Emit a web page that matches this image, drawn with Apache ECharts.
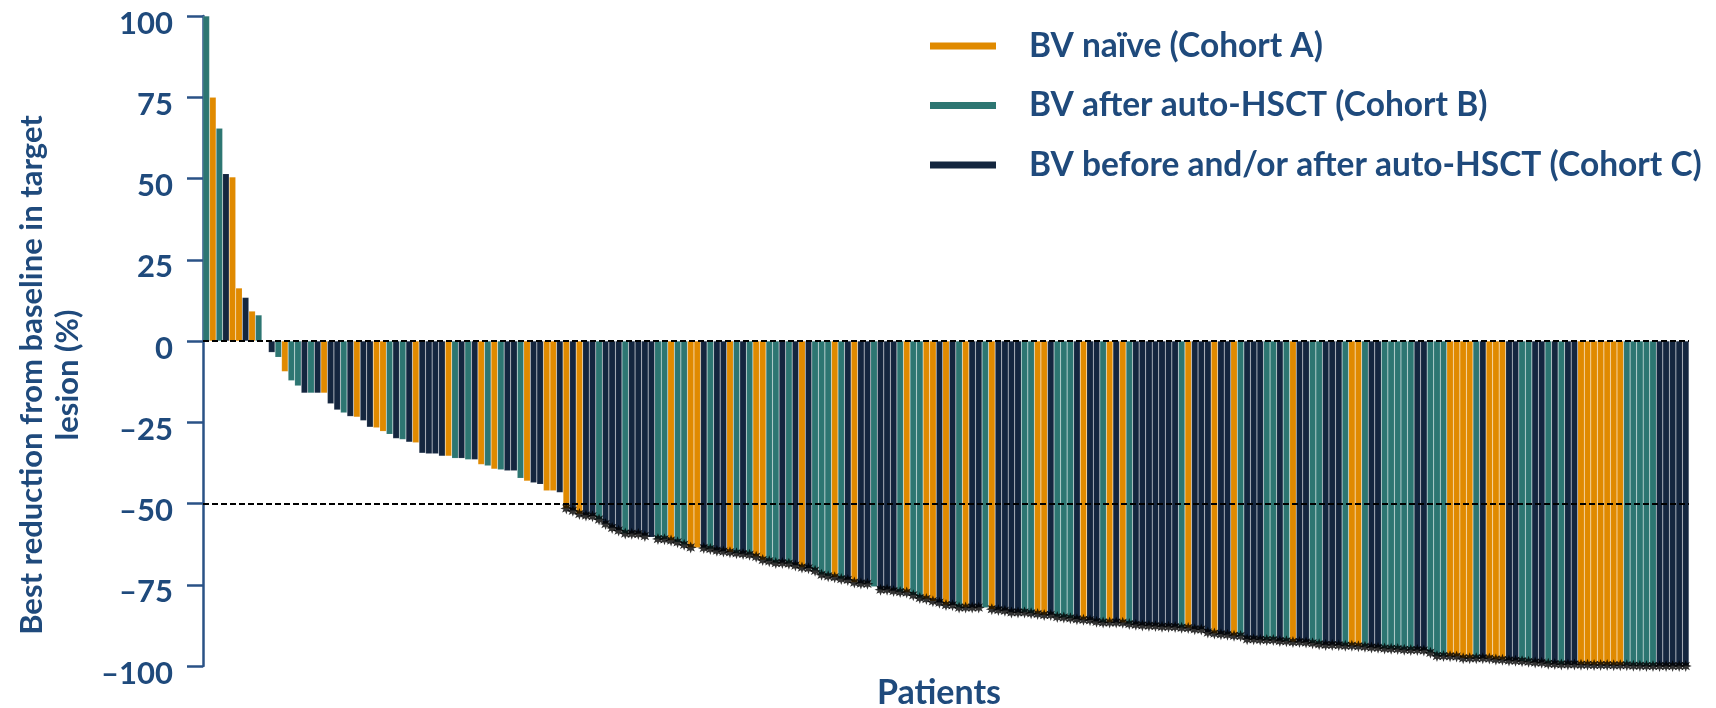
<!DOCTYPE html>
<html>
<head>
<meta charset="utf-8">
<script src="https://cdn.jsdelivr.net/npm/echarts@6/dist/echarts.min.js"></script>
<style>
html,body{margin:0;padding:0;background:#fff;}
#chart{width:1716px;height:708px;}
</style>
</head>
<body>
<div id="chart"></div>
<script>
// Best reduction from baseline (%) per patient, sorted
const values = [
100,75,65.5,51.5,50.5,16.3,13.4,9.2,8,0,
-3.5,-5,-9.4,-12.2,-13.8,-16,-16,-16,-16,-19.3,
-21.2,-22.1,-23.2,-23.4,-24.5,-26.5,-26.7,-27.8,-28.7,-30,
-30.3,-31.1,-31.3,-34.5,-34.7,-34.7,-35.4,-35.4,-36.1,-36.1,
-36.5,-36.5,-38,-38.4,-39.4,-39.6,-39.9,-39.9,-42.2,-43.1,
-43.6,-44.1,-46.1,-46.1,-46.6,-51.5,-52.2,-53.2,-53.7,-53.9,
-54.9,-56.3,-57.5,-58.3,-59.2,-59.3,-59.4,-60,-60.4,-60.9,
-61,-61.4,-61.9,-62.7,-63.5,-63.6,-63.7,-64,-64.5,-64.8,
-65,-65.3,-65.5,-65.8,-66.4,-67.4,-67.8,-68.3,-68.3,-68.5,
-69.1,-69.7,-69.9,-70.7,-71.9,-72.4,-72.7,-73.2,-73.5,-74.3,
-74.6,-74.7,-75.6,-76.5,-76.5,-76.9,-77.2,-77.4,-78.2,-79.1,
-79.4,-80.1,-80.5,-81.2,-81.3,-82,-82,-82,-82,-82.1,
-82.5,-82.8,-83,-83.5,-83.5,-83.5,-83.8,-84,-84.3,-84.3,
-84.9,-85.1,-85.3,-85.6,-85.8,-85.9,-86.4,-86.6,-86.6,-86.6,
-86.7,-87.1,-87.3,-87.5,-87.6,-87.7,-87.9,-87.9,-88,-88.2,
-88.3,-88.7,-88.8,-89.7,-90,-90.2,-90.4,-90.7,-90.8,-91.8,
-91.8,-91.9,-92,-92,-92.3,-92.4,-92.6,-92.6,-92.8,-93,
-93.3,-93.5,-93.5,-93.6,-93.8,-93.8,-93.9,-94.1,-94.3,-94.4,
-94.6,-94.7,-94.8,-95,-95.1,-95.1,-95.2,-95.9,-96.9,-96.9,
-97,-97.1,-97.6,-97.6,-97.6,-97.6,-97.7,-98,-98.1,-98.3,
-98.4,-98.5,-98.7,-98.9,-99,-99.3,-99.4,-99.5,-99.5,-99.5,
-99.6,-99.6,-99.7,-99.7,-99.7,-99.8,-99.8,-99.8,-99.9,-99.9,
-100,-100,-100,-100,-100,-100,-100
];
// Cohort of each patient (A, B, C)
const cohorts = (
'BABCAACABB' + 'CBABBCBCAC' + 'CBCACCAABC' + 'BCACCCCABC' + 'BCABABCCBA' +
'CCAACACACC' + 'BCCCBCCCCB' + 'BABBAACBCC' + 'ABCBAABBCB' + 'CACBBBABCA' +
'CCBCCCBABB' + 'AACACBACCB' + 'ACCCCBBAAC' + 'BBBCACCBAC' + 'ABCCCCCCCB' +
'ACCCACCABC' + 'CCBBCBACCB' + 'BCCCBAABCC' + 'BBBBBCCBBB' + 'AAAABCAAAC' +
'CBBCCBCBCC' + 'AAAAAAABBB' + 'BBCCCCC'
).split('');
// Patients without the asterisk marker
const noStar = [68, 75, 102, 119];
const seriesNames = ['BV naïve (Cohort A)', 'BV after auto-HSCT (Cohort B)', 'BV before and/or after auto-HSCT (Cohort C)'];
const cohortKeys = ['A', 'B', 'C'];
const yTicks = [-100, -75, -50, -25, 0, 25, 50, 75, 100];

const colors = ['#E08A00', '#2D7672', '#14263F'];
const textColor = '#1F4A7C';
const categories = values.map((v, i) => 'P' + (i + 1));

// 8-point star symbol
function starPath() {
  let d = '';
  for (let k = 0; k < 16; k++) {
    const a = k * Math.PI / 8 - Math.PI / 2;
    const r = k % 2 === 0 ? 10 : 5;
    const x = (10 + r * Math.cos(a)).toFixed(2);
    const y = (10 + r * Math.sin(a)).toFixed(2);
    d += (k === 0 ? 'M' : 'L') + x + ' ' + y + ' ';
  }
  return 'path://' + d + 'Z';
}

const barSeries = cohortKeys.map((key, k) => ({
  name: seriesNames[k],
  type: 'bar',
  stack: 'all',
  barCategoryGap: 0,
  barGap: 0,
  itemStyle: { color: colors[k], borderColor: 'rgba(255,255,255,0.22)', borderWidth: 0.5 },
  data: values.map((v, i) => cohorts[i] === key ? v : '-'),
  animation: false
}));

const starData = [];
values.forEach((v, i) => { if (v <= -50 && noStar.indexOf(i) < 0) starData.push([i, v]); });

const chart = echarts.init(document.getElementById('chart'));
const option = {
  animation: false,
  grid: { left: 203, right: 27, top: 16, bottom: 42, containLabel: false },
  xAxis: {
    type: 'category', data: categories,
    axisLine: { show: false }, axisTick: { show: false }, axisLabel: { show: false },
    splitLine: { show: false }
  },
  yAxis: {
    type: 'value', min: -100, max: 100, interval: 25,
    axisLine: { show: true, lineStyle: { color: '#2A5286', width: 2.5 } },
    axisTick: { show: true, length: 16, lineStyle: { color: '#2A5286', width: 2.5 } },
    splitLine: { show: false },
    axisLabel: {
      margin: 30, color: textColor, fontFamily: 'Lato', fontWeight: 'bold', fontSize: 31,
      formatter: v => yTicks.indexOf(v) >= 0 ? '{t|' + (v < 0 ? '\u2013' + Math.abs(v) : String(v)) + '}' : '',
      rich: {
        t: { padding: [15, 0, 0, 0], color: textColor, fontFamily: 'Lato', fontWeight: 'bold', fontSize: 31 }
      }
    }
  },
  series: barSeries.concat([{
    type: 'scatter',
    data: starData,
    symbol: starPath(),
    symbolSize: 12,
    itemStyle: { color: '#000' },
    z: 4,
    silent: true,
    markLine: {
      silent: true, symbol: 'none', z: 6,
      label: { show: false },
      lineStyle: { color: '#000', type: [6, 3], width: 1.8 },
      data: [{ yAxis: 0 }, { yAxis: -50 }]
    }
  }]),
  graphic: [
    {
      type: 'text', x: 50, y: 375, rotation: Math.PI / 2,
      style: {
        text: 'Best reduction from baseline in target\nlesion (%)',
        font: 'bold 31px Lato', fill: textColor, lineHeight: 36,
        align: 'center', verticalAlign: 'middle', textAlign: 'center', textVerticalAlign: 'middle'
      }
    },
    {
      type: 'text', x: 939, y: 693,
      style: {
        text: 'Patients', font: 'bold 34px Lato', fill: textColor,
        align: 'center', verticalAlign: 'middle', textAlign: 'center', textVerticalAlign: 'middle'
      }
    }
  ].concat(seriesNames.flatMap((name, k) => [
    { type: 'rect', shape: { x: 930, y: 46 + k * 59.5 - 3.5, width: 66, height: 7 }, style: { fill: colors[k] } },
    {
      type: 'text', x: 1029, y: 46 + k * 59.5,
      style: {
        text: name, font: 'bold 33.5px Lato', fill: textColor,
        align: 'left', verticalAlign: 'middle', textAlign: 'left', textVerticalAlign: 'middle'
      }
    }
  ]))
};
chart.setOption(option);
</script>
</body>
</html>
